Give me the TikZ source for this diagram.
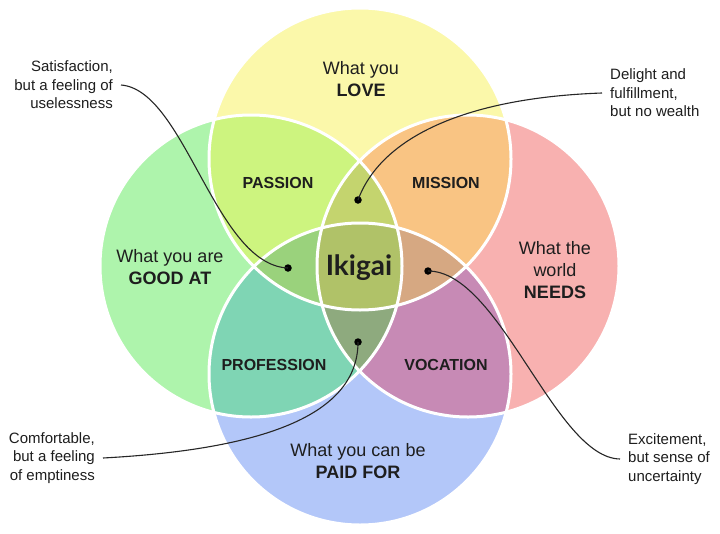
\documentclass[tikz,border=0pt]{standalone}
\usepackage{fontspec}
\setmainfont{Liberation Sans}
\newfontfamily\ikifont{Lato}
\definecolor{cLove}{HTML}{FBF8AA}
\definecolor{cGood}{HTML}{AEF4AC}
\definecolor{cNeeds}{HTML}{F8B1B0}
\definecolor{cPaid}{HTML}{B3C7F9}
\definecolor{cPassion}{HTML}{CDF47F}
\definecolor{cMission}{HTML}{F9C483}
\definecolor{cProfession}{HTML}{7FD5B4}
\definecolor{cVocation}{HTML}{C78AB5}
\definecolor{cTopT}{HTML}{C4D46E}
\definecolor{cLeftT}{HTML}{9AD27C}
\definecolor{cRightT}{HTML}{D6A882}
\definecolor{cBotT}{HTML}{8EAA7E}
\definecolor{cIki}{HTML}{B0C268}
\definecolor{ink}{HTML}{1E1E1E}
\tikzset{
  biglabel/.style={align=center, text=ink, font=\fontsize{18}{22}\selectfont},
  pairlabel/.style={text=ink, font=\fontsize{16}{19}\bfseries\selectfont},
  callout/.style={text=ink, font=\fontsize{15}{18.5}\selectfont, inner xsep=8pt},
  dotmark/.style={circle, fill=black, inner sep=0pt, minimum size=7.5pt},
  leader/.style={draw=black!85, line width=1.1pt},
  ring/.style={draw=white, line width=3pt}
}
\newcommand{\RR}{151pt}
\begin{document}
\begin{tikzpicture}[x=1pt,y=-1pt]
\useasboundingbox[fill=white] (0,0) rectangle (720,533);
\coordinate (T) at (360,159);
\coordinate (L) at (251,266);
\coordinate (R) at (468,266);
\coordinate (B) at (360,374);
% base circles
\fill[cLove] (T) circle[radius=\RR];
\fill[cGood] (L) circle[radius=\RR];
\fill[cNeeds] (R) circle[radius=\RR];
\fill[cPaid] (B) circle[radius=\RR];
% pairs
\begin{scope}\clip (T) circle[radius=\RR]; \fill[cPassion] (L) circle[radius=\RR];\end{scope}
\begin{scope}\clip (T) circle[radius=\RR]; \fill[cMission] (R) circle[radius=\RR];\end{scope}
\begin{scope}\clip (B) circle[radius=\RR]; \fill[cProfession] (L) circle[radius=\RR];\end{scope}
\begin{scope}\clip (B) circle[radius=\RR]; \fill[cVocation] (R) circle[radius=\RR];\end{scope}
% triples
\begin{scope}\clip (T) circle[radius=\RR]; \clip (L) circle[radius=\RR]; \fill[cTopT] (R) circle[radius=\RR];\end{scope}
\begin{scope}\clip (B) circle[radius=\RR]; \clip (L) circle[radius=\RR]; \fill[cBotT] (R) circle[radius=\RR];\end{scope}
\begin{scope}\clip (T) circle[radius=\RR]; \clip (B) circle[radius=\RR]; \fill[cLeftT] (L) circle[radius=\RR];\end{scope}
\begin{scope}\clip (T) circle[radius=\RR]; \clip (B) circle[radius=\RR]; \fill[cRightT] (R) circle[radius=\RR];\end{scope}
% quad
\begin{scope}\clip (T) circle[radius=\RR]; \clip (B) circle[radius=\RR]; \clip (L) circle[radius=\RR]; \fill[cIki] (R) circle[radius=\RR];\end{scope}
% white rings
\draw[ring] (T) circle[radius=\RR];
\draw[ring] (L) circle[radius=\RR];
\draw[ring] (R) circle[radius=\RR];
\draw[ring] (B) circle[radius=\RR];
% labels
\node[biglabel] (love) at (361,79) {What you\\\textbf{LOVE}};
\node[biglabel] (good) at (170,267) {What you are\\\textbf{GOOD AT}};
\node[biglabel] (needs) at (555,270) {What the\\world\\\textbf{NEEDS}};
\node[biglabel] (paid) at (358,461) {What you can be\\\textbf{PAID FOR}};
\node[pairlabel] (passion) at (278,183) {PASSION};
\node[pairlabel] (mission) at (446,183) {MISSION};
\node[pairlabel] (profession) at (274,365) {PROFESSION};
\node[pairlabel] (vocation) at (446,365) {VOCATION};
\node[text=ink, font=\ikifont\fontsize{28}{30}\bfseries\selectfont] (iki) at (359,268) {Ikigai};
% dots
\node[dotmark] (dTop) at (358,200) {};
\node[dotmark] (dLeft) at (288,268) {};
\node[dotmark] (dRight) at (428,271) {};
\node[dotmark] (dBot) at (358,342) {};
% callouts
\node[callout, align=right, anchor=east] (sat) at (121,85) {Satisfaction,\\but a feeling of\\uselessness};
\node[callout, align=left, anchor=west] (del) at (602,93) {Delight and\\fulfillment,\\but no wealth};
\node[callout, align=right, anchor=east] (com) at (103,458) {Comfortable,\\but a feeling\\of emptiness};
\node[callout, align=left, anchor=west] (exc) at (620,459) {Excitement,\\but sense of\\uncertainty};
% leaders
\draw[leader] (sat.east) .. controls (185,90) and (215,265) .. (dLeft.center);
\draw[leader] (del.west) .. controls (460,98) and (380,140) .. (dTop.center);
\draw[leader] (com.east) .. controls (250,450) and (358,420) .. (dBot.center);
\draw[leader] (exc.west) .. controls (555,458) and (500,271) .. (dRight.center);
\end{tikzpicture}
\end{document}
